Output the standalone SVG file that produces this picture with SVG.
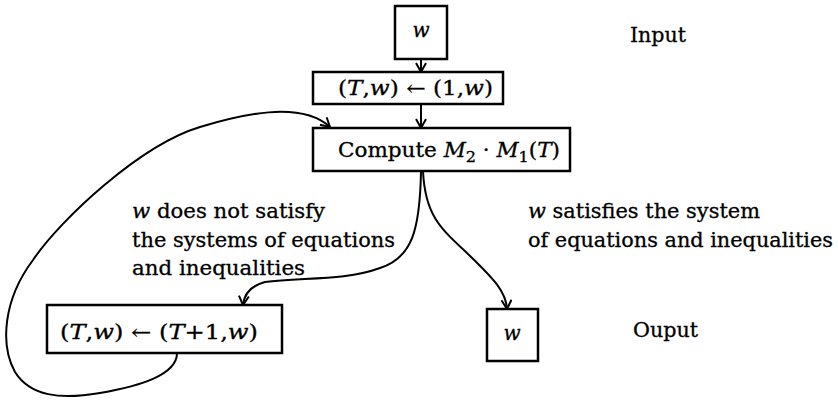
<svg xmlns="http://www.w3.org/2000/svg" width="838" height="400" viewBox="0 0 838 400">
<style>
  .box { fill: #fff; stroke: #000; stroke-width: 2.5; }
  .t { font-family: "DejaVu Serif", "Liberation Serif", serif; font-size: 20px; fill: #000; stroke: #000; stroke-width: 0.3; }
  .i { font-style: italic; }
  .c { fill: none; stroke: #000; stroke-width: 2; }
</style>
<defs>
  <marker id="ah" viewBox="0 0 12 12" refX="11" refY="6" markerWidth="12" markerHeight="12" markerUnits="userSpaceOnUse" orient="auto">
    <path d="M2,1 L11,6 L2,11" fill="none" stroke="#000" stroke-width="2"/>
  </marker>
</defs>
<rect width="838" height="400" fill="#fff"/>
<g id="connectors">
  <path class="c" d="M421,59 L421,72" marker-end="url(#ah)"/>
  <path class="c" d="M421,104 L421,128" marker-end="url(#ah)"/>
  <path class="c" d="M423,171 C425,215 440,228 468,254 C495,280 506,292 507,309" marker-end="url(#ah)"/>
  <path class="c" d="M421,171 C420,230 412,258 380,268 C345,281 300,277 265,282 C250,286 244,295 243,305" marker-end="url(#ah)"/>
  <path class="c" d="M177,353 C177,375 140,386 100,393 C60,400 30,396 15,372 C0,345 3,300 33,260 C60,220 140,145 200,127 C240,115 300,100 330,127" marker-end="url(#ah)"/>
</g>
<g id="input">
  <rect class="box" x="395" y="6" width="52" height="53"/>
  <text class="t i" x="421" y="37" text-anchor="middle">w</text>
</g>
<g id="init">
  <rect class="box" x="313" y="72" width="190" height="32"/>
  <text class="t" x="338" y="95" textLength="155" lengthAdjust="spacingAndGlyphs">(<tspan class="i">T</tspan>,<tspan class="i">w</tspan>) ← (1,<tspan class="i">w</tspan>)</text>
</g>
<g id="compute">
  <rect class="box" x="313" y="128" width="257" height="43"/>
  <text class="t" x="338" y="157" font-size="21" textLength="222" lengthAdjust="spacingAndGlyphs">Compute <tspan class="i">M</tspan><tspan font-size="15" dy="5">2</tspan><tspan dy="-5"> · </tspan><tspan class="i">M</tspan><tspan font-size="15" dy="5">1</tspan><tspan dy="-5">(</tspan><tspan class="i">T</tspan>)</text>
</g>
<g id="increment">
  <rect class="box" x="47" y="305" width="235" height="48"/>
  <text class="t" x="60" y="339" textLength="198" lengthAdjust="spacingAndGlyphs">(<tspan class="i">T</tspan>,<tspan class="i">w</tspan>) ← (<tspan class="i">T</tspan>+1,<tspan class="i">w</tspan>)</text>
</g>
<g id="output">
  <rect class="box" x="487" y="309" width="51" height="52"/>
  <text class="t i" x="512" y="340" text-anchor="middle">w</text>
</g>
<g id="labels">
  <text class="t" x="630" y="42" textLength="56" lengthAdjust="spacingAndGlyphs">Input</text>
  <text class="t" x="633" y="337" textLength="65" lengthAdjust="spacingAndGlyphs">Ouput</text>
  <text class="t" x="132" y="218" textLength="193" lengthAdjust="spacingAndGlyphs"><tspan class="i">w</tspan> does not satisfy</text>
  <text class="t" x="132" y="247" textLength="263" lengthAdjust="spacingAndGlyphs">the systems of equations</text>
  <text class="t" x="132" y="275" textLength="173" lengthAdjust="spacingAndGlyphs">and inequalities</text>
  <text class="t" x="528" y="218" textLength="232" lengthAdjust="spacingAndGlyphs"><tspan class="i">w</tspan> satisfies the system</text>
  <text class="t" x="528" y="247" textLength="305" lengthAdjust="spacingAndGlyphs">of equations and inequalities</text>
</g>
</svg>
